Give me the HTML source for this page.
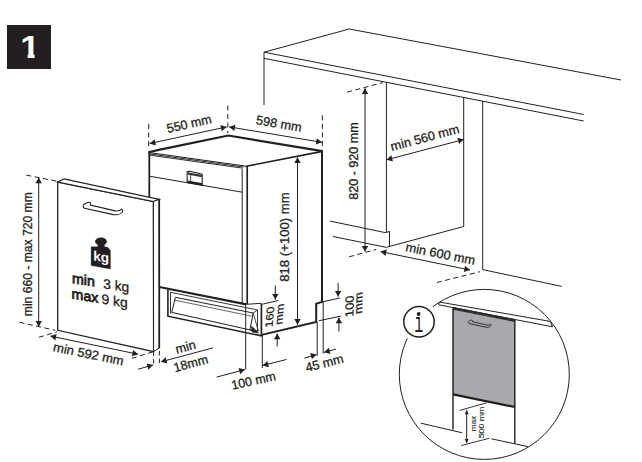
<!DOCTYPE html>
<html><head><meta charset="utf-8"><title>1</title>
<style>
html,body{margin:0;padding:0;background:#fff;}
body{width:642px;height:462px;overflow:hidden;}
svg{display:block;font-family:"Liberation Sans",sans-serif;}
</style></head><body>
<svg width="642" height="462" viewBox="0 0 642 462" fill="none" stroke="#231f20" stroke-linecap="butt" stroke-linejoin="miter">
<rect x="7" y="25" width="44" height="44" fill="#231f20" stroke="none"/>
<clipPath id="c1"><rect x="15" y="25" width="30" height="28.7"/><rect x="27.6" y="53" width="7" height="6"/></clipPath>
<g clip-path="url(#c1)"><text x="0" y="0" font-size="30.8" font-weight="bold" fill="#fff" stroke="none" text-anchor="middle" transform="translate(30.1 57.6) scale(1.14 1)">1</text></g>
<polyline points="264,52.2 349.3,29 621,80" stroke-width="1" fill="none"/>
<line x1="264" y1="52.2" x2="583.7" y2="114.5" stroke-width="1"/>
<line x1="264" y1="58.3" x2="583.7" y2="121" stroke-width="1"/>
<line x1="264" y1="52.2" x2="264" y2="105" stroke-width="1"/>
<line x1="386.4" y1="82.3" x2="386.4" y2="232.5" stroke-width="1"/>
<line x1="463.7" y1="97.4" x2="463.7" y2="226.5" stroke-width="1"/>
<line x1="482.7" y1="101.2" x2="482.7" y2="269.6" stroke-width="1"/>
<line x1="482.7" y1="269.6" x2="561.7" y2="286.4" stroke-width="1"/>
<line x1="463.7" y1="226.5" x2="386.6" y2="247.2" stroke-width="1"/>
<polyline points="330.1,221.1 385.2,232.6 386.4,232.5 389.5,231.3 389.5,246.5" stroke-width="1" fill="none"/>
<line x1="333" y1="236.5" x2="386.6" y2="247.4" stroke-width="1"/>
<line x1="347.1" y1="92.1" x2="382.8" y2="82.6" stroke-width="1" stroke-dasharray="5 3.5"/>
<line x1="365" y1="88.2" x2="365" y2="251.6" stroke-width="1"/>
<polygon points="365.00,88.20 368.20,93.90 361.80,93.90" fill="#231f20" stroke="none"/>
<polygon points="365.00,251.60 361.80,245.90 368.20,245.90" fill="#231f20" stroke="none"/>
<line x1="349.2" y1="256.8" x2="376" y2="249.5" stroke-width="1" stroke-dasharray="5 3.5"/>
<text x="357.6" y="161" font-size="12.7" text-anchor="middle" fill="#231f20" stroke="#231f20" stroke-width="0.3" transform="rotate(-90 357.6 161)" textLength="77.5" lengthAdjust="spacingAndGlyphs">820 - 920 mm</text>
<line x1="386.6" y1="159.8" x2="463.7" y2="139.5" stroke-width="1"/>
<polygon points="386.60,159.80 391.30,155.25 392.93,161.44" fill="#231f20" stroke="none"/>
<polygon points="463.70,139.50 459.00,144.05 457.37,137.86" fill="#231f20" stroke="none"/>
<text x="425.9" y="141.9" font-size="12.7" text-anchor="middle" fill="#231f20" stroke="#231f20" stroke-width="0.3" transform="rotate(-14.8 425.9 141.9)" textLength="70.5" lengthAdjust="spacingAndGlyphs">min 560 mm</text>
<line x1="380.6" y1="251.6" x2="470" y2="270" stroke-width="1"/>
<polygon points="380.60,251.60 386.83,249.61 385.54,255.88" fill="#231f20" stroke="none"/>
<polygon points="470.00,270.00 463.77,271.99 465.06,265.72" fill="#231f20" stroke="none"/>
<text x="439.6" y="258.0" font-size="12.7" text-anchor="middle" fill="#231f20" stroke="#231f20" stroke-width="0.3" transform="rotate(11.3 439.6 258.0)" textLength="70.5" lengthAdjust="spacingAndGlyphs">min 600 mm</text>
<line x1="436.8" y1="282.5" x2="480" y2="271.7" stroke-width="1" stroke-dasharray="5 3.5"/>
<polyline points="148.4,152.2 160,149.6 228.3,135.5 322.3,151.2" stroke-width="2.2" fill="none"/>
<line x1="148.6" y1="152.5" x2="245.0" y2="166.0" stroke-width="1.1" stroke="#231f20"/>
<line x1="148.6" y1="153.75" x2="243.7" y2="167.05" stroke-width="0.95" stroke="#231f20"/>
<line x1="148.6" y1="155.0" x2="242.4" y2="168.1" stroke-width="0.95" stroke="#231f20"/>
<line x1="245.2" y1="166.5" x2="322.3" y2="151.4" stroke-width="1.6"/>
<line x1="149.3" y1="151.8" x2="149.3" y2="200" stroke-width="1.8"/>
<line x1="149.4" y1="176.2" x2="242.2" y2="192.2" stroke-width="1"/>
<line x1="242.2" y1="168.8" x2="242.2" y2="303.5" stroke-width="1.0"/>
<line x1="247.2" y1="166.5" x2="247.2" y2="304" stroke-width="1.7"/>
<polygon points="187.2,171.5 190,171.3 202.2,174.2 202.2,185.2 187.2,182.6" stroke-width="1.1" fill="none"/>
<line x1="187.6" y1="173.3" x2="202" y2="176.2" stroke-width="2.3" stroke="#3a3637"/>
<line x1="187.4" y1="181.6" x2="202.2" y2="184.3" stroke-width="2.2"/>
<line x1="190.6" y1="174.5" x2="190.6" y2="181.5" stroke-width="0.8"/>
<line x1="322.0" y1="150.2" x2="322.0" y2="302" stroke-width="2.0"/>
<polyline points="323.4,301.4 316.2,303.8 316.2,321.9 261.7,334.9" stroke-width="2" fill="none"/>
<line x1="261.4" y1="303.8" x2="261.4" y2="336" stroke-width="1.7"/>
<line x1="159.4" y1="287" x2="246.3" y2="304.3" stroke-width="2.2"/>
<line x1="246.3" y1="304.3" x2="261.7" y2="303.3" stroke-width="1"/>
<polyline points="167.9,289.6 167.9,316.2 261.7,335.9" stroke-width="1.6" fill="none"/>
<polygon points="175.4,297.3 253.2,313 249.9,329.9 171.7,312.4" stroke-width="1" fill="none"/>
<line x1="170.5" y1="292.3" x2="257.5" y2="310" stroke-width="0.9"/>
<line x1="170.5" y1="292.3" x2="170.5" y2="313.5" stroke-width="0.9"/>
<polyline points="253.2,313 257.5,310 257.5,331.5 249.9,329.9" stroke-width="0.9" fill="none"/>
<line x1="174.5" y1="300.1" x2="251.7" y2="316.2" stroke-width="0.7"/>
<polyline points="253.2,313 258.3,331 249.9,329.9" stroke-width="0.8" fill="none"/>
<polygon points="251.5,326 258.6,333.2 252,332" stroke-width="0.5" fill="#231f20"/>
<line x1="148.7" y1="124" x2="148.7" y2="149.5" stroke-width="1" stroke-dasharray="5 3.5"/>
<line x1="227.8" y1="105.5" x2="227.8" y2="133" stroke-width="1" stroke-dasharray="5 3.5"/>
<line x1="322.4" y1="115.4" x2="322.4" y2="149.5" stroke-width="1" stroke-dasharray="5 3.5"/>
<line x1="149.7" y1="143.5" x2="226.6" y2="126.9" stroke-width="1"/>
<polygon points="149.70,143.50 154.60,139.17 155.95,145.43" fill="#231f20" stroke="none"/>
<polygon points="226.60,126.90 221.70,131.23 220.35,124.97" fill="#231f20" stroke="none"/>
<line x1="229.2" y1="126.9" x2="321.9" y2="142.3" stroke-width="1"/>
<polygon points="229.20,126.90 235.35,124.68 234.30,130.99" fill="#231f20" stroke="none"/>
<polygon points="321.90,142.30 315.75,144.52 316.80,138.21" fill="#231f20" stroke="none"/>
<text x="190" y="128.0" font-size="12.7" text-anchor="middle" fill="#231f20" stroke="#231f20" stroke-width="0.3" transform="rotate(-12.6 190 128.0)" textLength="45.5" lengthAdjust="spacingAndGlyphs">550 mm</text>
<text x="278.3" y="127.9" font-size="12.7" text-anchor="middle" fill="#231f20" stroke="#231f20" stroke-width="0.3" transform="rotate(9.5 278.3 127.9)" textLength="46" lengthAdjust="spacingAndGlyphs">598 mm</text>
<line x1="297.5" y1="157.2" x2="297.5" y2="324.8" stroke-width="1"/>
<polygon points="297.50,157.20 300.70,162.90 294.30,162.90" fill="#231f20" stroke="none"/>
<polygon points="297.50,324.80 294.30,319.10 300.70,319.10" fill="#231f20" stroke="none"/>
<text x="289.4" y="237" font-size="12.7" text-anchor="middle" fill="#231f20" stroke="#231f20" stroke-width="0.3" transform="rotate(-90 289.4 237)" textLength="89.5" lengthAdjust="spacingAndGlyphs">818 (+100) mm</text>
<line x1="262.3" y1="304.2" x2="278.5" y2="300.5" stroke-width="1"/>
<line x1="275.3" y1="285.5" x2="275.3" y2="299.6" stroke-width="1"/>
<polygon points="275.30,299.60 272.10,293.90 278.50,293.90" fill="#231f20" stroke="none"/>
<line x1="277.2" y1="346.4" x2="277.2" y2="333.6" stroke-width="1"/>
<polygon points="277.20,333.60 280.40,339.30 274.00,339.30" fill="#231f20" stroke="none"/>
<text x="0" y="0" font-size="12.7" text-anchor="middle" fill="#231f20" stroke="#231f20" stroke-width="0.3" textLength="21" lengthAdjust="spacingAndGlyphs" transform="matrix(0.08 -1 0.84 -0.13 273.4 316.6)">160</text>
<text x="0" y="0" font-size="12.7" text-anchor="middle" fill="#231f20" stroke="#231f20" stroke-width="0.3" textLength="21" lengthAdjust="spacingAndGlyphs" transform="matrix(0.08 -1 0.84 -0.13 283.2 313.7)">mm</text>
<line x1="245.7" y1="304" x2="245.7" y2="369.5" stroke-width="1"/>
<line x1="262.3" y1="335" x2="262.3" y2="368" stroke-width="1"/>
<line x1="216.6" y1="377.1" x2="244.9" y2="369.6" stroke-width="1"/>
<polygon points="244.90,369.60 240.21,374.15 238.57,367.97" fill="#231f20" stroke="none"/>
<line x1="286.5" y1="359.5" x2="262.6" y2="365.4" stroke-width="1"/>
<polygon points="262.60,365.40 267.37,360.93 268.90,367.14" fill="#231f20" stroke="none"/>
<text x="254.5" y="384.9" font-size="12.7" text-anchor="middle" fill="#231f20" stroke="#231f20" stroke-width="0.3" transform="rotate(-12.5 254.5 384.9)" textLength="45" lengthAdjust="spacingAndGlyphs">100 mm</text>
<line x1="323.2" y1="301.6" x2="340.2" y2="298.0" stroke-width="1"/>
<line x1="318.7" y1="320.8" x2="340.8" y2="316.1" stroke-width="1"/>
<line x1="338.1" y1="282.9" x2="338.1" y2="296.6" stroke-width="1"/>
<polygon points="338.10,296.60 334.90,290.90 341.30,290.90" fill="#231f20" stroke="none"/>
<line x1="338.9" y1="331.5" x2="338.9" y2="317.5" stroke-width="1"/>
<polygon points="338.90,317.50 342.10,323.20 335.70,323.20" fill="#231f20" stroke="none"/>
<text x="0" y="0" font-size="12.7" text-anchor="middle" fill="#231f20" stroke="#231f20" stroke-width="0.3" textLength="21.4" lengthAdjust="spacingAndGlyphs" transform="matrix(0.03 -1 0.92 -0.13 353.5 305.8)">100</text>
<text x="0" y="0" font-size="12.7" text-anchor="middle" fill="#231f20" stroke="#231f20" stroke-width="0.3" textLength="21.6" lengthAdjust="spacingAndGlyphs" transform="matrix(0.03 -1 0.88 -0.13 362.3 302.6)">mm</text>
<line x1="317.2" y1="322" x2="317.2" y2="355.8" stroke-width="1"/>
<line x1="323.2" y1="302" x2="323.2" y2="353.6" stroke-width="1"/>
<line x1="304.3" y1="358.1" x2="316.5" y2="354.6" stroke-width="1"/>
<polygon points="316.50,354.60 311.90,359.25 310.14,353.10" fill="#231f20" stroke="none"/>
<line x1="336" y1="349.1" x2="324.1" y2="352.3" stroke-width="1"/>
<polygon points="324.10,352.30 328.77,347.73 330.44,353.91" fill="#231f20" stroke="none"/>
<text x="325.5" y="367.2" font-size="12.7" text-anchor="middle" fill="#231f20" stroke="#231f20" stroke-width="0.3" transform="rotate(-14.5 325.5 367.2)" textLength="38.8" lengthAdjust="spacingAndGlyphs">45 mm</text>
<polygon points="57.7,182.1 153.4,201.5 153.6,351.6 57.7,330.3" stroke-width="1.3" fill="#fff"/>
<polygon points="57.7,182.1 64,178.8 159.2,199.4 153.4,201.5" stroke-width="1.2" fill="#fff"/>
<polygon points="153.4,201.5 159.2,199.4 159.3,347.9 153.6,351.6" stroke-width="1.0" fill="#fff"/>
<line x1="159.2" y1="198.8" x2="159.3" y2="348.3" stroke-width="1.7"/>
<path d="M89,202.3 C86,202.8 84.3,203.6 83.5,205 C82.8,206.5 83.3,207.6 84.6,208.2 L113.3,214.6 C117,215.3 121,214 122.5,211.8 C122.9,210.8 122.4,209.6 121.7,209.2 C120.5,210.2 117.5,211.2 115.2,210.9 L90.4,205.1 C90.8,204 90.6,203 90,202.5 Z" stroke-width="1.1" fill="#fff"/>
<ellipse cx="101" cy="241.4" rx="5.9" ry="3.9" fill="#231f20" stroke="none"/>
<polygon points="97.8,243 104.5,243 104.5,247 107.4,247 110.4,250.5 110.4,269 91.1,265.6 91.1,246.8 97.8,246.8" stroke-width="0.3" fill="#231f20"/>
<text x="0" y="0" font-size="13.6" font-weight="bold" fill="#fff" stroke="#fff" stroke-width="0" transform="translate(93.2 260.3) skewY(9)">kg</text>
<text x="0" y="0" font-size="14.2" fill="#231f20" stroke="#231f20" stroke-width="0.75" transform="translate(72 283) skewY(9)">min</text>
<text x="0" y="0" font-size="14.2" fill="#231f20" stroke="#231f20" stroke-width="0.75" transform="translate(71.6 298.6) skewY(9)">max</text>
<text x="0" y="0" font-size="13.8" fill="#231f20" stroke="#231f20" stroke-width="0.3" transform="translate(103.2 288.2) skewY(9)">3 kg</text>
<text x="0" y="0" font-size="13.8" fill="#231f20" stroke="#231f20" stroke-width="0.3" transform="translate(101.6 303.6) skewY(9)">9 kg</text>
<line x1="26.3" y1="175.1" x2="57.7" y2="181.4" stroke-width="1" stroke-dasharray="5 3.5"/>
<line x1="38.7" y1="177.5" x2="38.7" y2="326.7" stroke-width="1"/>
<polygon points="38.70,177.50 41.90,183.20 35.50,183.20" fill="#231f20" stroke="none"/>
<polygon points="38.70,326.70 35.50,321.00 41.90,321.00" fill="#231f20" stroke="none"/>
<line x1="19.5" y1="322.3" x2="55.2" y2="330.3" stroke-width="1" stroke-dasharray="5 3.5"/>
<text x="32.0" y="254.2" font-size="12.7" text-anchor="middle" fill="#231f20" stroke="#231f20" stroke-width="0.3" transform="rotate(-90 32.0 254.2)" textLength="124" lengthAdjust="spacingAndGlyphs">min 660 - max 720 mm</text>
<line x1="38.9" y1="337.3" x2="57" y2="331.8" stroke-width="1" stroke-dasharray="5 3.5"/>
<line x1="50.4" y1="336.1" x2="138.1" y2="354.2" stroke-width="1"/>
<polygon points="50.40,336.10 56.63,334.12 55.34,340.39" fill="#231f20" stroke="none"/>
<polygon points="138.10,354.20 131.87,356.18 133.16,349.91" fill="#231f20" stroke="none"/>
<line x1="131.9" y1="358.4" x2="153.2" y2="351.7" stroke-width="1" stroke-dasharray="5 3.5"/>
<text x="87.6" y="358.2" font-size="12.7" text-anchor="middle" fill="#231f20" stroke="#231f20" stroke-width="0.3" transform="rotate(11.7 87.6 358.2)" textLength="71.5" lengthAdjust="spacingAndGlyphs">min 592 mm</text>
<line x1="153.6" y1="351.5" x2="153.6" y2="366" stroke-width="1" stroke-dasharray="4.5 3"/>
<line x1="159.4" y1="351" x2="159.4" y2="363.5" stroke-width="1" stroke-dasharray="4.5 3"/>
<line x1="138.1" y1="369.2" x2="153" y2="365" stroke-width="1"/>
<polygon points="153.00,365.00 148.38,369.63 146.65,363.47" fill="#231f20" stroke="none"/>
<line x1="212.9" y1="347.9" x2="161" y2="361.8" stroke-width="1"/>
<polygon points="161.00,361.80 165.68,357.23 167.33,363.42" fill="#231f20" stroke="none"/>
<text x="186.7" y="351.2" font-size="12.7" text-anchor="middle" fill="#231f20" stroke="#231f20" stroke-width="0.3" transform="rotate(-15 186.7 351.2)" textLength="20.5" lengthAdjust="spacingAndGlyphs">min</text>
<text x="191.9" y="367.6" font-size="12.7" text-anchor="middle" fill="#231f20" stroke="#231f20" stroke-width="0.3" transform="rotate(-15 191.9 367.6)" textLength="35" lengthAdjust="spacingAndGlyphs">18mm</text>
<clipPath id="cc"><circle cx="484.3" cy="374.4" r="85"/></clipPath>
<g clip-path="url(#cc)">
<rect x="390" y="280" width="190" height="185" fill="#fff" stroke="none"/>
<polygon points="439.3,302 550.3,321.4 552.5,326.8 438.7,304.8" stroke-width="1" fill="#fff"/>
<polygon points="453,307.6 514.8,319.8 514.8,407 453,394.4" stroke-width="0.1" fill="#a7a9ac"/>
<clipPath id="hb"><polygon points="453,307.2 514.8,319.4 514.8,322.0 453,309.8"/></clipPath>
<g clip-path="url(#hb)"><polygon points="453,307.2 514.8,319.4 514.8,322.0 453,309.8" fill="#bcbec0" stroke="none"/>
<line x1="448.0" y1="304.21" x2="456.0" y2="311.01" stroke-width="1.5"/>
<line x1="451.0" y1="304.81" x2="459.0" y2="311.61" stroke-width="1.5"/>
<line x1="454.0" y1="305.4" x2="462.0" y2="312.2" stroke-width="1.5"/>
<line x1="457.0" y1="305.99" x2="465.0" y2="312.79" stroke-width="1.5"/>
<line x1="460.0" y1="306.58" x2="468.0" y2="313.38" stroke-width="1.5"/>
<line x1="463.0" y1="307.17" x2="471.0" y2="313.97" stroke-width="1.5"/>
<line x1="466.0" y1="307.77" x2="474.0" y2="314.57" stroke-width="1.5"/>
<line x1="469.0" y1="308.36" x2="477.0" y2="315.16" stroke-width="1.5"/>
<line x1="472.0" y1="308.95" x2="480.0" y2="315.75" stroke-width="1.5"/>
<line x1="475.0" y1="309.54" x2="483.0" y2="316.34" stroke-width="1.5"/>
<line x1="478.0" y1="310.13" x2="486.0" y2="316.94" stroke-width="1.5"/>
<line x1="481.0" y1="310.73" x2="489.0" y2="317.53" stroke-width="1.5"/>
<line x1="484.0" y1="311.32" x2="492.0" y2="318.12" stroke-width="1.5"/>
<line x1="487.0" y1="311.91" x2="495.0" y2="318.71" stroke-width="1.5"/>
<line x1="490.0" y1="312.5" x2="498.0" y2="319.3" stroke-width="1.5"/>
<line x1="493.0" y1="313.1" x2="501.0" y2="319.9" stroke-width="1.5"/>
<line x1="496.0" y1="313.69" x2="504.0" y2="320.49" stroke-width="1.5"/>
<line x1="499.0" y1="314.28" x2="507.0" y2="321.08" stroke-width="1.5"/>
<line x1="502.0" y1="314.87" x2="510.0" y2="321.67" stroke-width="1.5"/>
<line x1="505.0" y1="315.46" x2="513.0" y2="322.26" stroke-width="1.5"/>
<line x1="508.0" y1="316.06" x2="516.0" y2="322.86" stroke-width="1.5"/>
<line x1="511.0" y1="316.65" x2="519.0" y2="323.45" stroke-width="1.5"/>
<line x1="514.0" y1="317.24" x2="522.0" y2="324.04" stroke-width="1.5"/>
</g>
<line x1="453" y1="307.4" x2="514.8" y2="319.6" stroke-width="0.7"/>
<line x1="453" y1="394.4" x2="514.8" y2="407" stroke-width="2.2"/>
<line x1="453" y1="307.6" x2="453" y2="429.6" stroke-width="1.4"/>
<line x1="514.8" y1="319.8" x2="514.8" y2="443.8" stroke-width="1.4"/>
<path d="M89,202.3 C86,202.8 84.3,203.6 83.5,205 C82.8,206.5 83.3,207.6 84.6,208.2 L113.3,214.6 C117,215.3 121,214 122.5,211.8 C122.9,210.8 122.4,209.6 121.7,209.2 C120.5,210.2 117.5,211.2 115.2,210.9 L90.4,205.1 C90.8,204 90.6,203 90,202.5 Z" stroke-width="1.5" fill="#a7a9ac" transform="translate(468.3 321.2) scale(0.575) translate(-83.2 -204.2)"/>
<line x1="420.9" y1="423.2" x2="462.2" y2="432.8" stroke-width="1"/>
<line x1="491.4" y1="438.8" x2="527.7" y2="446.6" stroke-width="1"/>
<line x1="459.7" y1="410.4" x2="486.6" y2="402.8" stroke-width="0.9"/>
<line x1="461.2" y1="445.6" x2="489.5" y2="438.2" stroke-width="0.9"/>
<line x1="466.7" y1="411" x2="466.7" y2="442.3" stroke-width="1"/>
<polygon points="466.70,409.80 468.60,414.20 464.80,414.20" fill="#231f20" stroke="none"/>
<polygon points="466.70,443.50 464.80,439.10 468.60,439.10" fill="#231f20" stroke="none"/>
<text x="476" y="423.6" font-size="7.6" text-anchor="middle" fill="#231f20" stroke="#231f20" stroke-width="0.1" transform="rotate(-90 476 423.6)" textLength="15.5" lengthAdjust="spacingAndGlyphs">max</text>
<text x="484.3" y="422.5" font-size="7.6" text-anchor="middle" fill="#231f20" stroke="#231f20" stroke-width="0.1" transform="rotate(-90 484.3 422.5)" textLength="31.5" lengthAdjust="spacingAndGlyphs">500 mm</text>
</g>
<circle cx="484.3" cy="374.4" r="85" stroke-width="1"/>
<circle cx="419" cy="321.8" r="20.3" fill="#fff" stroke="none"/>
<circle cx="419" cy="321.8" r="15.2" fill="#fff" stroke-width="1.5"/>
<text x="0" y="0" font-family="Liberation Mono, monospace" font-size="27" text-anchor="middle" fill="#231f20" stroke="none" transform="translate(418.8 332.2) scale(0.56 1.01)">i</text>
<circle cx="418.6" cy="314.1" r="1.85" fill="#231f20" stroke="none"/>
</svg>
</body></html>
